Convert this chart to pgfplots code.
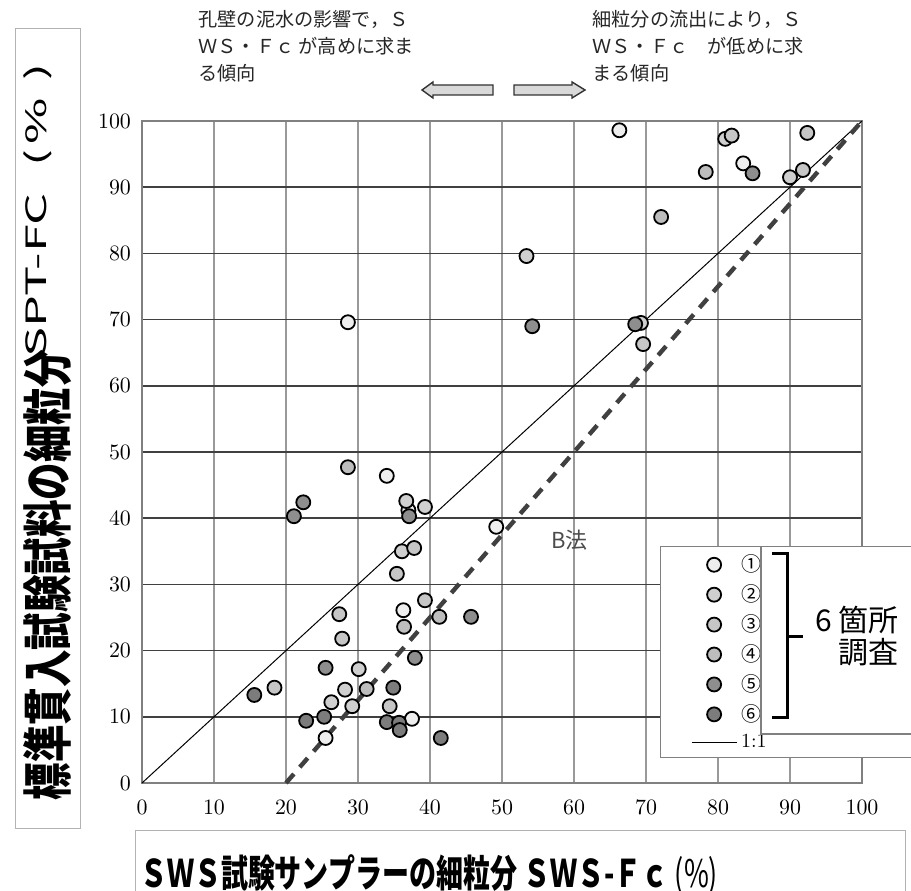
\documentclass[border=0pt]{standalone}
\usepackage{fontspec}
\usepackage{pgfplots}
\pgfplotsset{compat=1.18}
\newfontfamily\cjk{Noto Sans CJK JP}
\definecolor{cA}{HTML}{EEEEEE}
\definecolor{cB}{HTML}{CFCFCF}
\definecolor{cC}{HTML}{C6C6C6}
\definecolor{cD}{HTML}{BDBDBD}
\definecolor{cE}{HTML}{8E8E8E}
\definecolor{cF}{HTML}{7C7C7C}
\pgfplotsset{
  pt/.style={only marks, mark=*, mark size=3.5pt, mark options={draw=black, line width=0.9pt, fill=#1},
    legend image code/.code={\draw[mark repeat=2,mark phase=2,##1] plot coordinates {(0cm,0cm) (0.395cm,0cm) (0.79cm,0cm)};}},
  oneline/.style={black, line width=0.5pt,
    legend image code/.code={\draw[##1] (0cm,0cm) -- (0.79cm,0cm);}},
}
\begin{document}
\begin{tikzpicture}
\useasboundingbox (-71pt,-53.5pt) rectangle (384.5pt,391.5pt);
% y label box
\draw[gray!60] (-63.5pt,-22.5pt) rectangle (-31pt,377.5pt);
\node[rotate=90, inner sep=0, anchor=base] at (-37.75pt,104pt) {\cjk\fontsize{25}{25}\selectfont\bfseries\resizebox{225pt}{\height}{標準貫入試験試料の細粒分}};
\node[rotate=90, inner sep=0, anchor=base] at (-47.5pt,286.5pt) {\cjk\fontsize{14}{14}\selectfont\resizebox{147pt}{\height}{SPT-FC\hspace{0.55em}(\hspace{0.1em}\%\hspace{0.35em})}};
% x label box
\draw[gray!60] (-3.5pt,-23.5pt) rectangle (381.5pt,-70pt);
\node[inner sep=0] at (143.5pt,-46pt) {\cjk\fontsize{19}{19}\selectfont\resizebox{289pt}{\height}{\bfseries ＳＷＳ試験サンプラーの細粒分\ ＳＷＳ-Ｆｃ \mdseries (\%)}};
% top notes
\node[anchor=north west, align=left, inner sep=0, text=black!85, font=\cjk\fontsize{9.6}{13.5}\selectfont] at (28pt,386.5pt) {孔壁の泥水の影響で，Ｓ\\ＷＳ・Ｆｃ が高めに求ま\\る傾向};
\node[anchor=north west, align=left, inner sep=0, text=black!85, font=\cjk\fontsize{9.6}{13.5}\selectfont] at (225pt,386.5pt) {細粒分の流出により，Ｓ\\ＷＳ・Ｆｃ　が低めに求\\まる傾向};
\draw[fill=gray!30, draw=black!80, line width=0.7pt] (140pt,346.5pt) -- (145.5pt,350.5pt) -- (145.5pt,349pt) -- (175.5pt,349pt) -- (175.5pt,344pt) -- (145.5pt,344pt) -- (145.5pt,342.5pt) -- cycle;
\draw[fill=gray!30, draw=black!80, line width=0.7pt] (221.5pt,346.5pt) -- (215pt,350.5pt) -- (215pt,349pt) -- (186pt,349pt) -- (186pt,344pt) -- (215pt,344pt) -- (215pt,342.5pt) -- cycle;
\begin{axis}[
  at={(0pt,0pt)}, anchor=south west,
  width=360pt, height=331pt, scale only axis,
  xmin=0, xmax=100, ymin=0, ymax=100,
  xtick={0,10,...,100}, ytick={0,10,...,100},
  major tick length=0pt,
  grid=major,
  major x grid style={draw=black!40, line width=0.7pt},
  major y grid style={draw=black!75, line width=0.8pt},
  axis line style={draw=black!50, line width=0.7pt},
  xticklabel style={font=\fontsize{10.5}{12}\selectfont, yshift=-5pt},
  yticklabel style={font=\fontsize{10.5}{12}\selectfont, xshift=-2pt},
  clip=false,
  legend style={at={(0.7538,0.3574)}, anchor=north west, draw=none, fill=none,
    font=\cjk\fontsize{10}{10}\selectfont, row sep=1pt},
  legend cell align=left,
]
% legend frame background
\draw[draw=black!50, fill=white] (rel axis cs:0.7194,0.0393) rectangle (rel axis cs:1.3,0.358);
% lines
\addplot[black, line width=0.5pt, forget plot] coordinates {(0,0) (100,100)};
\addplot[black!75, line width=2.2pt, dash pattern=on 6pt off 4.5pt, forget plot] coordinates {(20,0) (100,100)};
\node[text=black!70, font=\cjk\fontsize{11}{11}\selectfont] at (axis cs:59.4,36.7) {B法};
% data
\addplot[pt=cA] coordinates {(28.6,69.6) (66.3,98.6) (83.5,93.6) (25.5,6.8) (49.2,38.7) (37.0,41.2) (36.3,26.1) (34.0,46.4) (37.5,9.7)};
\addlegendentry{①}
\addplot[pt=cB] coordinates {(81.0,97.3) (90.0,91.5) (69.3,69.5) (53.4,79.6) (36.7,42.6) (39.3,41.7) (36.1,35.0) (30.1,17.2) (28.2,14.1) (26.3,12.2) (29.2,11.6)};
\addlegendentry{②}
\addplot[pt=cC] coordinates {(81.9,97.8) (92.4,98.2) (91.8,92.6) (69.6,66.3) (37.8,35.5) (35.4,31.6) (39.3,27.6) (27.4,25.5) (27.8,21.8) (34.4,11.6) (18.4,14.4)};
\addlegendentry{③}
\addplot[pt=cD] coordinates {(78.3,92.3) (72.1,85.5) (28.6,47.7) (41.3,25.1) (36.4,23.6) (31.2,14.2)};
\addlegendentry{④}
\addplot[pt=cE] coordinates {(84.8,92.1) (68.5,69.3) (54.2,69.0) (22.4,42.4) (21.1,40.3) (37.1,40.3) (45.7,25.1) (37.9,18.9) (25.5,17.4)};
\addlegendentry{⑤}
\addplot[pt=cF] coordinates {(15.6,13.3) (34.9,14.4) (22.8,9.4) (25.3,10.0) (34.0,9.2) (35.7,9.1) (35.8,8.0) (41.5,6.8)};
\addlegendentry{⑥}
\addlegendimage{oneline}
\addlegendentry{\normalfont 1:1}
\end{axis}
% overlay box
\fill[white] (309.5pt,24.5pt) rectangle (400pt,118pt);
\draw[black!50, line width=0.7pt] (309.5pt,118.3pt) -- (309.5pt,24.5pt) -- (400pt,24.5pt);
\draw[line width=1.5pt] (315pt,115pt) -- (322.5pt,115pt) -- (322.5pt,33pt) -- (315pt,33pt);
\draw[line width=1.5pt] (322.5pt,73.5pt) -- (330.5pt,73.5pt);
\node[anchor=east, align=right, font=\cjk\fontsize{15}{16}\selectfont] at (382pt,73.5pt) {6 箇所\\調査};
\end{tikzpicture}
\end{document}
